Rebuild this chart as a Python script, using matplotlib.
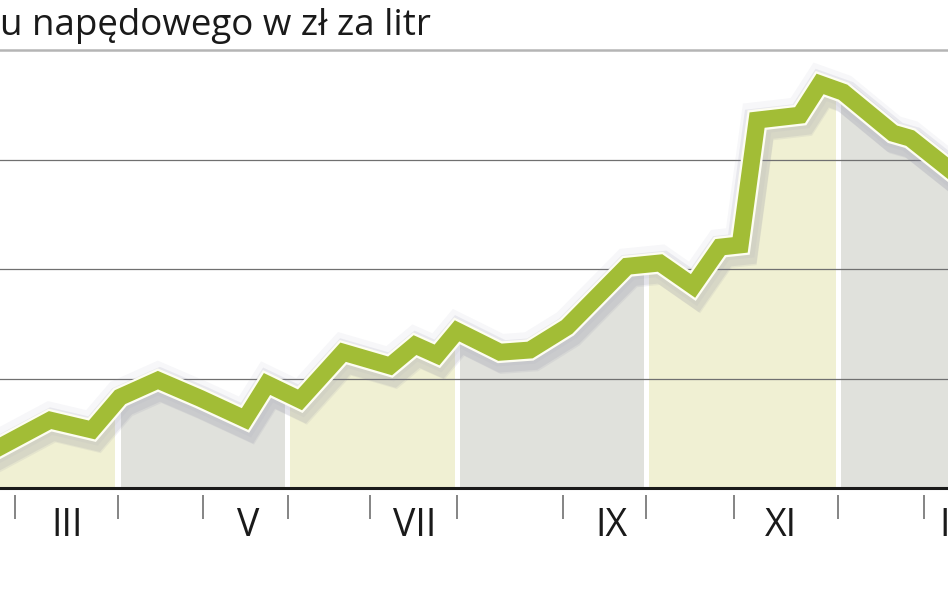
import matplotlib
matplotlib.use('Agg')
import matplotlib.pyplot as plt
import matplotlib.patheffects as pe

# weekly diesel price (zł/l), x in weeks counted from 1 March
weeks = [-0.71, 1.66, 3.64, 4.97, 6.76, 8.75, 10.88, 11.92, 13.48, 15.52,
         17.74, 18.92, 19.96, 20.91, 22.94, 24.36, 26.11, 28.95, 30.51, 32.07,
         33.35, 34.30, 35.10, 37.13, 38.08, 39.17, 41.53, 42.34, 44.13]
price = [3.675, 3.724, 3.706, 3.766, 3.797, 3.764, 3.726, 3.790, 3.761, 3.848,
         3.823, 3.861, 3.843, 3.887, 3.848, 3.852, 3.894, 4.005, 4.011, 3.969,
         4.040, 4.044, 4.272, 4.281, 4.338, 4.323, 4.248, 4.239, 4.184]

# month boundaries and labels
tick_pos = [0, 4.87, 8.89, 12.91, 16.79, 20.91, 25.92, 29.85, 34.01, 38.93, 43.0]
month_labels = ['III', 'V', 'VII', 'IX', 'XI', 'I']
label_pos = [2.46, 11.02, 18.92, 28.19, 36.23, 43.95]

# two-month background bands
band_edges = [-1, 4.87, 12.91, 20.91, 29.85, 38.93, 45]
band_colors = ['#f0f0d3', '#e0e1dc'] * 3

grid_vals = [3.8, 4.0, 4.2]
y0, y1 = 3.6, 4.4

fig = plt.figure(figsize=(9.48, 5.93), dpi=100)
ax = fig.add_axes([0, 105 / 593, 1, 438 / 593])
ax.set_xlim(-0.7096, 44.13)
ax.set_ylim(y0, y1)
ax.axis('off')

gap = 0.12
for i in range(len(band_edges) - 1):
    ax.axvspan(band_edges[i] + gap, band_edges[i + 1] - gap,
               color=band_colors[i], lw=0, zorder=0)

# white above the curve
ax.fill_between(weeks, price, 5, color='white', lw=0, zorder=1)

for g in grid_vals:
    ax.axhline(g, color='#707070', lw=0.9, zorder=2)
ax.axhline(y1, color='#b5b5b5', lw=1.8, zorder=2, clip_on=False)
ax.axhline(y0, color='#1a1a1a', lw=2.2, zorder=3, clip_on=False)

effects = [
    pe.SimpleLineShadow(offset=(1.5, -3), shadow_color='#7d7d9a', alpha=0.12, linewidth=23),
    pe.SimpleLineShadow(offset=(2.5, -5), shadow_color='#7d7d9a', alpha=0.10, linewidth=21),
    pe.SimpleLineShadow(offset=(0, 1.5), shadow_color='#9a9ab8', alpha=0.08, linewidth=23),
    pe.Stroke(linewidth=15.5, foreground='#fdfdf2'),
    pe.Normal(),
]
ax.plot(weeks, price, color='#a2bd36', lw=12.2, solid_joinstyle='miter',
        zorder=4, path_effects=effects)

# month ticks under the axis
ax.vlines(tick_pos, 3.587, 3.543, color='#707070', lw=1.2, clip_on=False)
for lab, xp in zip(month_labels, label_pos):
    ax.text(xp, 3.530, lab, ha='center', va='center', fontsize=27,
            family='Open Sans', color='#1a1a1a', clip_on=False)

fig.text(0.0, 1 - 35 / 593, 'u napędowego w zł za litr', fontsize=26.5,
         family='Open Sans', va='baseline', ha='left', color='#1a1a1a')

fig.savefig('out.png', dpi=100)
